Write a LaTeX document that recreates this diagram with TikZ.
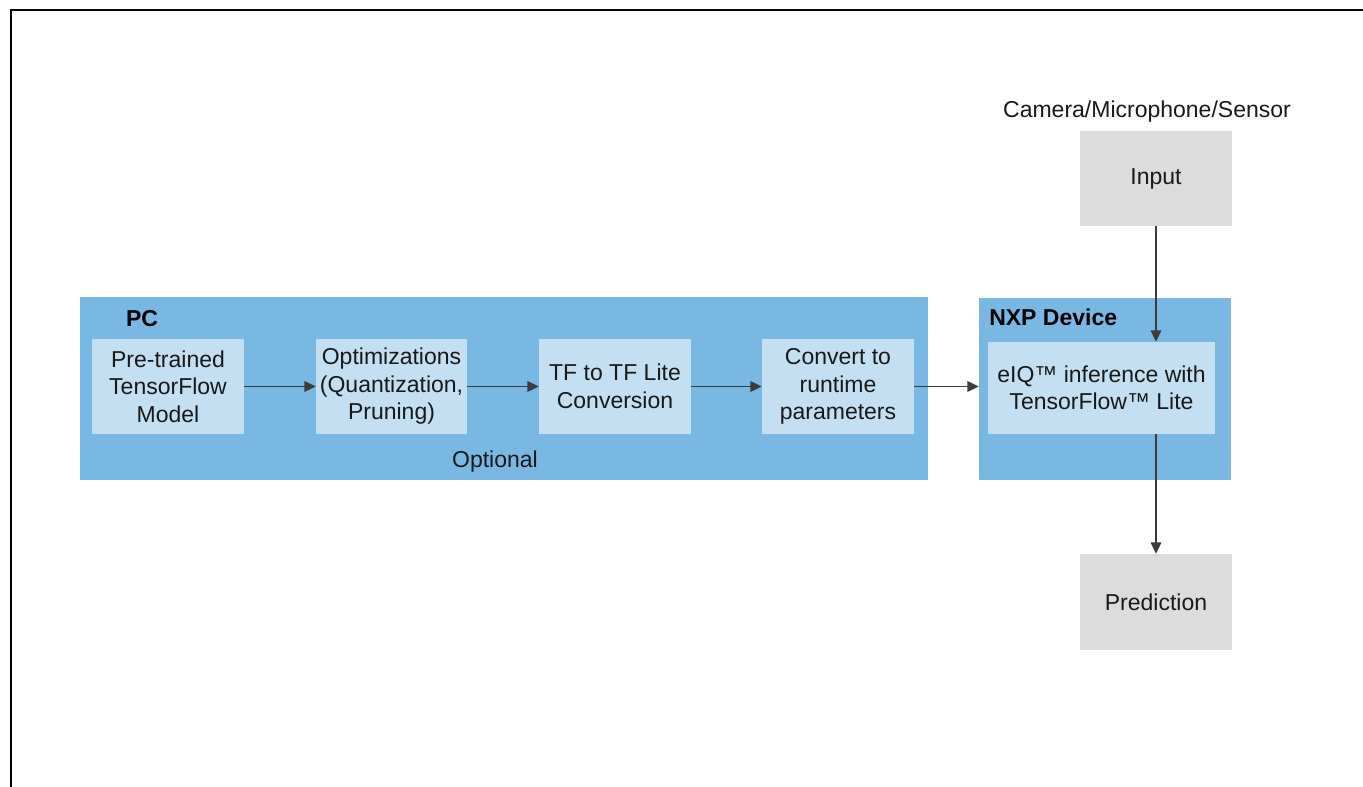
\documentclass[tikz,border=0pt]{standalone}
\usepackage{fontspec}
\setmainfont{Liberation Sans}
\usetikzlibrary{arrows.meta,calc}
\definecolor{outerblue}{RGB}{122,184,228}
\definecolor{innerblue}{RGB}{196,223,242}
\definecolor{greybox}{RGB}{220,220,220}
\definecolor{linegrey}{RGB}{60,60,60}
\begin{document}
\begin{tikzpicture}[x=0.75pt,y=-0.75pt,
  txt/.style={font=\fontsize{17.25}{20.6}\selectfont, align=center, text=black!90},
  group/.style={fill=outerblue, draw=none, inner sep=0pt},
  inner/.style={txt, fill=innerblue, draw=none, inner sep=0pt, minimum width=114pt, minimum height=71.25pt},
  greyb/.style={txt, fill=greybox, draw=none, inner sep=0pt, minimum width=114pt, minimum height=71.25pt},
  lbl/.style={font=\bfseries\fontsize{17.25}{20.6}\selectfont, inner sep=0pt},
  conn/.style={draw=linegrey, line width=1pt, -{Triangle[length=8.5pt,width=8pt]}}
]
\useasboundingbox (0,0) rectangle (1363,787);
% frame
\draw[line width=1.8pt, line cap=rect] (11,787) -- (11,10) -- (1363,10);
% groups
\node[group, minimum width=636pt, minimum height=137.25pt] (pc) at (504,388.5) {};
\node[group, minimum width=189pt, minimum height=136.5pt] (nxp) at (1105,389) {};
\node[lbl] (pclbl) at (142,319) {PC};
\node[lbl, anchor=west] (nxplbl) at (989,317) {NXP Device};
\node[txt, inner sep=0pt] (opt) at (495,462) {Optional};
% inner boxes
\node[inner] (b1) at (168,386.5) {Pre-trained\\TensorFlow\\Model};
\node[inner, minimum width=113.25pt] (b2) at (391.5,386.5) {Optimizations\\(Quantization,\\Pruning)};
\node[inner] (b3) at (615,386.5) {TF to TF Lite\\Conversion};
\node[inner] (b4) at (838,386.5) {Convert to\\runtime\\parameters};
\node[inner, minimum width=170.25pt, minimum height=69pt] (eiq) at (1101.5,388) {eIQ™ inference with\\TensorFlow™ Lite};
% grey boxes
\node[greyb] (input) at (1156,178.5) {Input};
\node[greyb, minimum height=72pt] (pred) at (1156,602) {Prediction};
\node[txt, inner sep=0pt] (cam) at (1147,112) {Camera/Microphone/Sensor};
% connectors
\draw[conn] (b1.east) -- (b2.west);
\draw[conn] (b2.east) -- (b3.west);
\draw[conn] (b3.east) -- (b4.west);
\draw[conn] (b4.east) -- (b4.east -| nxp.west);
\draw[conn] (input.south) -- (input.south |- eiq.north);
\draw[conn] (eiq.south -| pred.north) -- (pred.north);
\end{tikzpicture}
\end{document}
